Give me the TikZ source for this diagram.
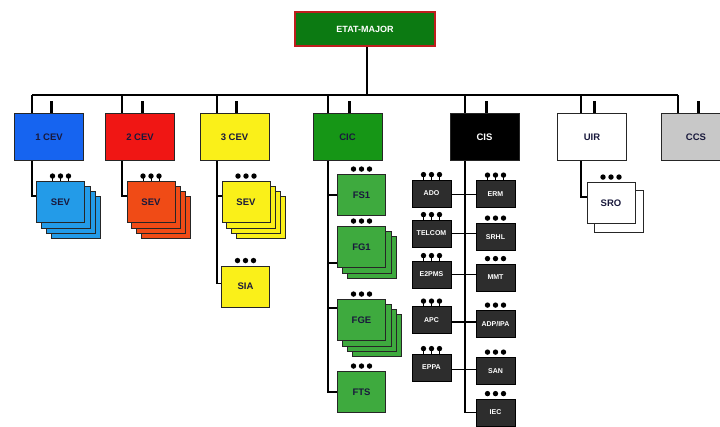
\documentclass[tikz,border=0pt]{standalone}
\usepackage{fontspec}
\setmainfont{Liberation Sans}
\usepackage{tikz}
\usetikzlibrary{backgrounds}

\definecolor{emgreen}{RGB}{12,122,18}
\definecolor{emred}{RGB}{190,30,30}
\definecolor{cevblue}{RGB}{22,100,240}
\definecolor{sevblue}{RGB}{35,155,232}
\definecolor{cevred}{RGB}{240,22,20}
\definecolor{sevred}{RGB}{240,75,22}
\definecolor{cevyellow}{RGB}{250,240,25}
\definecolor{cicgreen}{RGB}{22,150,22}
\definecolor{subgreen}{RGB}{62,170,62}
\definecolor{cisgray}{RGB}{45,45,45}
\definecolor{ccsgray}{RGB}{200,200,200}
\definecolor{navy}{RGB}{25,25,60}

\begin{document}
\begin{tikzpicture}[x=1pt,y=-1pt,
  unit/.style={draw=black!85, line width=0.9pt, minimum width=69pt, minimum height=47pt,
    inner sep=1pt, font=\fontsize{9.5}{10}\selectfont\bfseries, text=navy},
  sub/.style={unit, minimum width=48pt, minimum height=41pt},
  small/.style={draw=black, line width=0.8pt, fill=cisgray, minimum width=39pt, minimum height=27pt,
    inner sep=1pt, font=\fontsize{7}{8}\selectfont\bfseries, text=white},
  link/.style={line width=1.7pt},
  stub/.style={line width=3pt},
  layer/.style={draw=black!85, line width=0.9pt}]
\useasboundingbox (0,0) rectangle (720,426);

% Etat-major
\node[draw=emred, line width=1.6pt, fill=emgreen, minimum width=140pt, minimum height=34pt,
  font=\fontsize{9}{10}\selectfont\bfseries, text=white] (em) at (365,29) {ETAT-MAJOR};

% Bus
\coordinate (d1) at (32,95);
\coordinate (d2) at (122,95);
\coordinate (d3) at (217,95);
\coordinate (d4) at (328,95);
\coordinate (d5) at (465,95);
\coordinate (d6) at (581,95);
\coordinate (d7) at (678,95);

% Units
\node[unit, fill=cevblue] (cev1) at (49,137) {1 CEV};
\node[unit, fill=cevred] (cev2) at (140,137) {2 CEV};
\node[unit, fill=cevyellow] (cev3) at (234.5,137) {3 CEV};
\node[unit, fill=cicgreen] (cic) at (347.5,137) {CIC};
\node[unit, fill=black, text=white] (cis) at (484.5,137) {CIS};
\node[unit, fill=white] (uir) at (592,137) {UIR};
\node[unit, fill=ccsgray] (ccs) at (696,137) {CCS};

% Sub units
\node[sub, fill=sevblue] (sev1) at (60.5,202) {SEV};
\node[sub, fill=sevred] (sev2) at (151,202) {SEV};
\node[sub, fill=cevyellow] (sev3) at (246,202) {SEV};
\node[sub, fill=cevyellow] (sia) at (245.5,286.5) {SIA};
\node[sub, fill=subgreen] (fs1) at (361.5,195) {FS1};
\node[sub, fill=subgreen] (fg1) at (361.5,247) {FG1};
\node[sub, fill=subgreen] (fge) at (361.5,320) {FGE};
\node[sub, fill=subgreen] (fts) at (361.5,392) {FTS};
\node[sub, fill=white] (sro) at (611,203) {SRO};

% CIS left column
\node[small] (ado) at (431.5,193.5) {ADO};
\node[small] (telcom) at (431.5,233.5) {TELCOM};
\node[small] (e2pms) at (431.5,274.5) {E2PMS};
\node[small] (apc) at (431.5,320) {APC};
\node[small] (eppa) at (431.5,367.5) {EPPA};

% CIS right column
\node[small] (erm) at (495.5,194) {ERM};
\node[small] (srhl) at (495.5,237) {SRHL};
\node[small] (mmt) at (495.5,277.5) {MMT};
\node[small] (adp) at (495.5,324) {ADP/IPA};
\node[small] (san) at (495.5,371) {SAN};
\node[small] (iec) at (495.5,412.5) {IEC};

% Dots
\foreach \n in {sev1,sev2,sev3,sia,fs1,fg1,fge,fts,sro,ado,telcom,e2pms,apc,eppa,erm,srhl,mmt,adp,san,iec}
  \foreach \dx in {-8,0,8}
    \fill ([xshift=\dx pt,yshift=5pt]\n.north) circle (2.7pt);
\foreach \n in {sev1,sev2,ado,telcom,e2pms,apc,eppa,erm}
  \foreach \dx in {-8,0,8}
    \draw[line width=0.8pt] ([xshift=\dx pt]\n.north) -- ++(0,-5);

\begin{scope}[on background layer]
  % Connectors
  \draw[line width=2pt] (d1) -- (d7);
  \draw[link] (em.south -| 367,0) -- (d1 -| 367,0);
  \draw[link] (d1) |- ([yshift=6pt]sev1.west);
  \draw[link] (d2) |- ([yshift=6pt]sev2.west);
  \draw[link] (d3) |- ([yshift=3pt]sia.west);
  \draw[link] ([yshift=6pt]sev3.west) -| (d3);
  \draw[link] (d4) |- (fts.west);
  \draw[link] (fs1.west) -| (d4);
  \draw[link] ([yshift=-16pt]fg1.west) -| (d4);
  \draw[link] ([yshift=12pt]fge.west) -| (d4);
  \draw[link] (d5) |- (iec.west);
  \draw[link] ([yshift=-1pt]ado.east) -- ([yshift=-1pt]ado.east -| erm.west);
  \draw[link] (telcom.east) -- (telcom.east -| srhl.west);
  \draw[link] (e2pms.east) -- (e2pms.east -| mmt.west);
  \draw[link] ([yshift=-2pt]apc.east) -- ([yshift=-2pt]apc.east -| adp.west);
  \draw[link] ([yshift=-2pt]eppa.east) -- ([yshift=-2pt]eppa.east -| san.west);
  \draw[link] (d6) |- ([yshift=6pt]sro.west);
  \draw[link] (d7) -- (ccs.north -| d7);
  \foreach \u in {cev1,cev2,cev3,cic,cis,uir,ccs}
    \draw[stub] ([xshift=2pt]\u.north) -- ++(0,-12);
  % Stacks
  \foreach \n/\k/\o/\c in {sev1/3/5/sevblue, sev2/3/5/sevred, sev3/3/5/cevyellow,
                           fg1/2/5/subgreen, fge/3/5/subgreen, sro/1/8/white}
    \foreach \i in {\k,...,1}
      \filldraw[layer, fill=\c] ([shift={(\i*\o pt,-\i*\o pt)}]\n.north west)
        rectangle ([shift={(\i*\o pt,-\i*\o pt)}]\n.south east);
\end{scope}
\end{tikzpicture}
\end{document}
